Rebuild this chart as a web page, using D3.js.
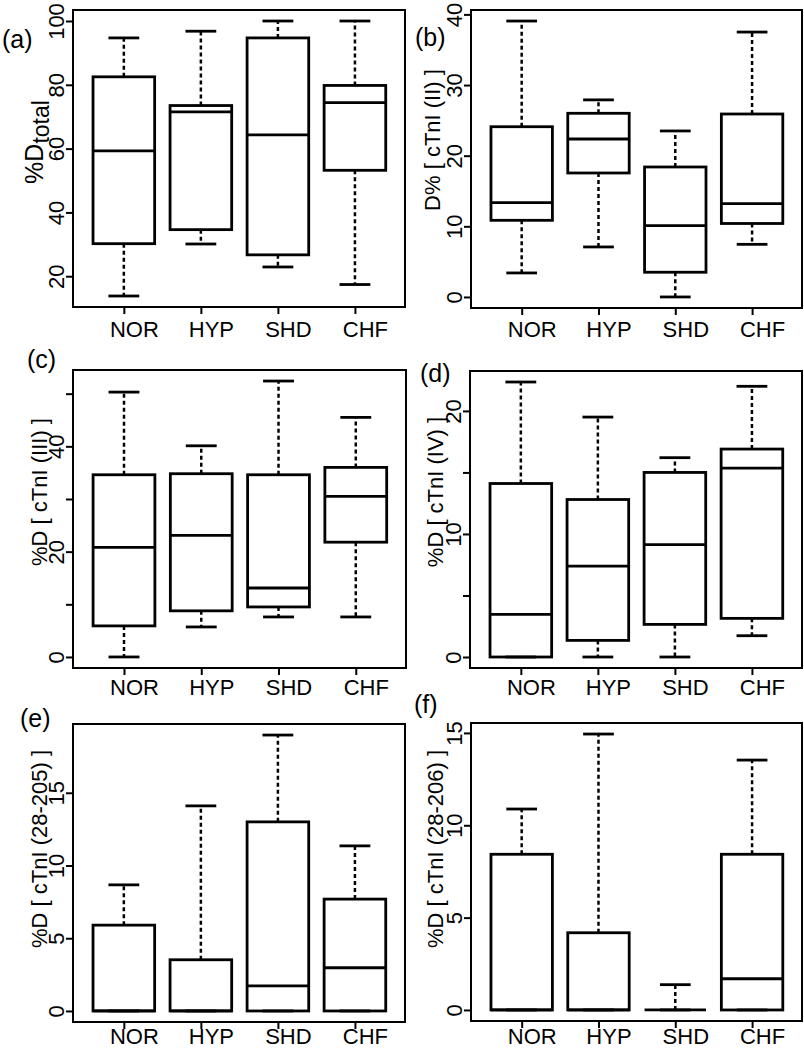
<!DOCTYPE html>
<html>
<head>
<meta charset="utf-8">
<script src="https://cdn.jsdelivr.net/npm/d3@7"></script>
<style>
  html, body { margin: 0; padding: 0; background: #fff; }
  svg { display: block; }
</style>
</head>
<body>
<script>
// ---- data ----
const groups = ["NOR", "HYP", "SHD", "CHF"];
// five-number summaries per group: [lower whisker, Q1, median, Q3, upper whisker]
const statsA = [[13.8, 30.2, 59.3, 82.5, 94.7], [30.1, 34.6, 71.5, 73.5, 96.8], [22.9, 26.7, 64.3, 94.7, 100], [17.4, 53.2, 74.4, 79.8, 100]];
const statsB = [[3.4, 10.85, 13.35, 24.1, 39.06], [7.08, 17.55, 22.36, 26.0, 27.9], [0, 3.5, 10.1, 18.4, 23.5], [7.45, 10.4, 13.2, 25.9, 37.5]];
const statsC = [[0, 5.9, 20.8, 34.6, 50.3], [5.7, 8.76, 23.1, 34.8, 40.1], [7.6, 9.5, 13.1, 34.6, 52.4], [7.6, 21.8, 30.5, 36.0, 45.5]];
const statsD = [[0, 0, 3.46, 14.1, 22.35], [0, 1.35, 7.38, 12.8, 19.5], [0, 2.65, 9.14, 15.0, 16.2], [1.73, 3.14, 15.35, 16.9, 22.0]];
const statsE = [[0, 0, 0, 5.9, 8.67], [0, 0, 0, 3.52, 14.1], [0, 0, 1.72, 13.0, 18.97], [0, 0, 2.97, 7.69, 11.35]];
const statsF = [[0, 0, 0, 8.43, 10.88], [0, 0, 0, 4.18, 14.94], [0, 0, 0, 0, 1.37], [0, 0, 1.69, 8.43, 13.53]];

const ticksA = [20, 40, 60, 80, 100];
const tickLabelsA = ["20", "40", "60", "80", "100"];
const ticksB = [0, 10, 20, 30, 40];
const tickLabelsB = ["0", "10", "20", "30", "40"];
const ticksC = [0, 10, 20, 30, 40, 50];
const tickLabelsC = ["0", "", "20", "", "40", ""];
const ticksD = [0, 5, 10, 15, 20];
const tickLabelsD = ["0", "", "10", "", "20"];
const ticksE = [0, 5, 10, 15];
const tickLabelsE = ["0", "5", "10", "15"];
const ticksF = [0, 5, 10, 15];
const tickLabelsF = ["0", "5", "10", "15"];

const panelLetters = ["(a)", "(b)", "(c)", "(d)", "(e)", "(f)"];
const yTitles = [null, "D% [ cTnI (II) ]", "%D [ cTnI (III) ]", "%D [ cTnI (IV) ]", "%D [ cTnI (28-205) ]", "%D [ cTnI (28-206) ]"];

// ---- layout ----
const W = 804, H = 1050;
const FONT = "'Liberation Sans', Arial, Helvetica, sans-serif";
const panels = [
  {stats: statsA, ticks: ticksA, labels: tickLabelsA, l: 73, r: 405, t: 10, b: 307, xb: 30, lx: 2, ly: 48, tx: 43, ty: 142},
  {stats: statsB, ticks: ticksB, labels: tickLabelsB, l: 471, r: 802, t: 10, b: 308, xb: 29, lx: 415, ly: 46, tx: 440, ty: 140},
  {stats: statsC, ticks: ticksC, labels: tickLabelsC, l: 73, r: 406, t: 370, b: 668, xb: 27, lx: 27, ly: 368, tx: 47, ty: 492},
  {stats: statsD, ticks: ticksD, labels: tickLabelsD, l: 470, r: 802, t: 371, b: 668, xb: 27, lx: 420, ly: 382, tx: 443, ty: 492},
  {stats: statsE, ticks: ticksE, labels: tickLabelsE, l: 73, r: 405, t: 724, b: 1022, xb: 22, lx: 20, ly: 727, tx: 47, ty: 849},
  {stats: statsF, ticks: ticksF, labels: tickLabelsF, l: 471, r: 802, t: 723, b: 1021, xb: 23, lx: 414, ly: 713, tx: 443, ty: 849}
];

const svg = d3.select("body").append("svg").attr("width", W).attr("height", H);
svg.append("rect").attr("width", W).attr("height", H).attr("fill", "#fff");

panels.forEach((p, pi) => {
  const g = svg.append("g");
  const x = d3.scaleLinear().domain([0.34, 4.65]).range([p.l, p.r]);
  const lo = d3.min(p.stats, s => s[0]), hi = d3.max(p.stats, s => s[4]);
  const pad = (hi - lo) * 0.04;
  const y = d3.scaleLinear().domain([lo - pad, hi + pad]).range([p.b, p.t]);

  // frame
  g.append("rect").attr("x", p.l).attr("y", p.t).attr("width", p.r - p.l).attr("height", p.b - p.t)
    .attr("fill", "none").attr("stroke", "#000").attr("stroke-width", 2);

  // y axis
  const ya = g.append("g").attr("transform", `translate(${p.l},0)`)
    .call(d3.axisLeft(y).tickValues(p.ticks).tickSize(7).tickFormat((d, i) => p.labels[i]));
  ya.select(".domain").remove();
  ya.selectAll("line").attr("stroke", "#000").attr("stroke-width", 2);
  ya.selectAll("text").attr("transform", "rotate(-90)").attr("x", 0).attr("y", -9).attr("dy", 0)
    .attr("text-anchor", "middle").attr("font-family", FONT).attr("font-size", 22).attr("fill", "#000");

  // x axis
  const xa = g.append("g").attr("transform", `translate(0,${p.b})`)
    .call(d3.axisBottom(x).tickValues([1, 2, 3, 4]).tickSize(7).tickFormat(d => groups[d - 1]));
  xa.select(".domain").remove();
  xa.selectAll("line").attr("stroke", "#000").attr("stroke-width", 2);
  xa.selectAll("text").attr("x", 10).attr("y", p.xb).attr("dy", 0)
    .attr("text-anchor", "middle").attr("font-family", FONT).attr("font-size", 22).attr("fill", "#000");

  // boxes
  const bw = 0.4, sw = 0.2;
  p.stats.forEach((s, i) => {
    const cx = x(i + 1);
    const bx = g.append("g");
    // whiskers (dashed)
    bx.append("line").attr("x1", cx).attr("x2", cx).attr("y1", y(s[3])).attr("y2", y(s[4]))
      .attr("stroke", "#000").attr("stroke-width", 2.5).attr("stroke-dasharray", "4,3");
    bx.append("line").attr("x1", cx).attr("x2", cx).attr("y1", y(s[1])).attr("y2", y(s[0]))
      .attr("stroke", "#000").attr("stroke-width", 2.5).attr("stroke-dasharray", "4,3");
    // staples
    [s[0], s[4]].forEach(v => {
      bx.append("line").attr("x1", x(i + 1 - sw)).attr("x2", x(i + 1 + sw)).attr("y1", y(v)).attr("y2", y(v))
        .attr("stroke", "#000").attr("stroke-width", 2.8);
    });
    // box
    bx.append("rect").attr("x", x(i + 1 - bw)).attr("width", x(i + 1 + bw) - x(i + 1 - bw))
      .attr("y", y(s[3])).attr("height", y(s[1]) - y(s[3]))
      .attr("fill", "none").attr("stroke", "#000").attr("stroke-width", 2.8);
    // median
    bx.append("line").attr("x1", x(i + 1 - bw)).attr("x2", x(i + 1 + bw)).attr("y1", y(s[2])).attr("y2", y(s[2]))
      .attr("stroke", "#000").attr("stroke-width", 2.8);
  });

  // panel letter
  svg.append("text").attr("x", p.lx).attr("y", p.ly).attr("font-family", FONT).attr("font-size", 25)
    .attr("fill", "#000").text(panelLetters[pi]);

  // y title
  const tt = svg.append("text").attr("transform", `translate(${p.tx},${p.ty}) rotate(-90)`)
    .attr("text-anchor", "middle").attr("font-family", FONT).attr("font-size", 22).attr("fill", "#000");
  if (yTitles[pi] === null) {
    tt.attr("font-size", 25);
    tt.append("tspan").text("%D");
    tt.append("tspan").attr("dy", 6).attr("font-size", 23).text("total");
  } else {
    tt.text(yTitles[pi]);
  }
});
</script>
</body>
</html>
